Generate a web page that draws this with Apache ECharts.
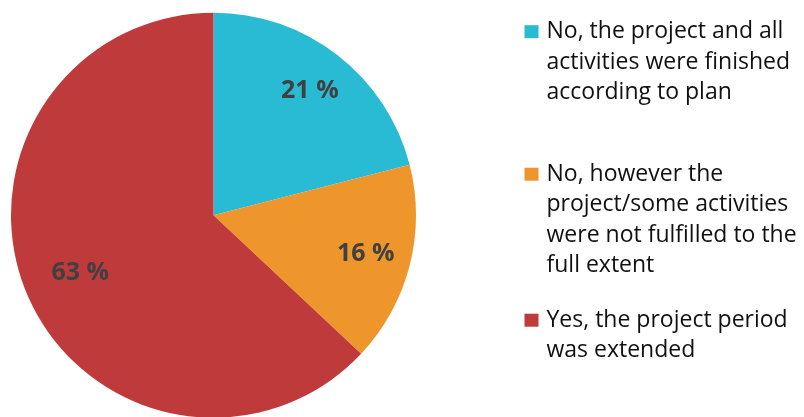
<!DOCTYPE html>
<html>
<head>
<meta charset="utf-8">
<script src="https://cdn.jsdelivr.net/npm/echarts@6/dist/echarts.min.js"></script>
<style>
html,body{margin:0;padding:0;background:#fff;}
#chart{width:804px;height:417px;}
</style>
</head>
<body>
<div id="chart"></div>
<script>
// ---- data ----
const categories = [
  'No, the project and all activities were finished according to plan',
  'No, however the project/some activities were not fulfilled to the full extent',
  'Yes, the project period was extended'
];
const legendLines = [
  ['No, the project and all', 'activities were finished', 'according to plan'],
  ['No, however the', 'project/some activities', 'were not fulfilled to the', 'full extent'],
  ['Yes, the project period', 'was extended']
];
const values = [21, 16, 63];

// ---- styling / layout ----
const colors = ['#29BBD3', '#EE962B', '#BF3A3A'];
const FONT = '"Open Sans", "Liberation Sans", sans-serif';
const LH = 30.4;
const legendTops = [16.5, 159, 305];
const CX = 213.5, CY = 215.2, R = 202.5;

const chart = echarts.init(document.getElementById('chart'), null, {renderer: 'canvas'});

const rich = {
  t: {fontFamily: FONT, fontSize: 23, color: '#111', lineHeight: LH},
  g: {width: 8, lineHeight: LH},
  ind: {width: 22, lineHeight: LH}
};
colors.forEach((c, i) => {
  rich['sq' + i] = {width: 14, height: 13, backgroundColor: c, lineHeight: LH};
});

const legends = legendLines.map((lines, i) => ({
  data: [categories[i]],
  orient: 'vertical',
  left: 519.5,
  top: legendTops[i],
  padding: 0,
  itemWidth: 0,
  itemHeight: 1,
  icon: 'none',
  selectedMode: false,
  formatter: function () {
    return lines.map((ln, k) => (k === 0 ? '{sq' + i + '|}{g|}' : '{ind|}') + '{t|' + ln + '}').join('\n');
  },
  textStyle: {fontFamily: FONT, fontSize: 23, color: '#111', lineHeight: LH, rich: rich}
}));

const baseData = categories.map((n, i) => ({name: n, value: values[i], itemStyle: {color: colors[i]}}));

const labelStyle = {
  position: 'inside',
  formatter: '{c} %',
  fontFamily: FONT,
  fontSize: 25,
  fontWeight: 'bold',
  color: '#404040'
};

function labelData(showIdx) {
  return categories.map((n, i) => ({
    name: n,
    value: values[i],
    itemStyle: {color: 'rgba(0,0,0,0)'},
    label: {show: showIdx.indexOf(i) >= 0}
  }));
}

chart.setOption({
  animation: false,
  legend: legends,
  series: [
    {
      type: 'pie',
      center: [CX, CY],
      radius: R,
      startAngle: 90,
      clockwise: true,
      silent: true,
      label: {show: false},
      labelLine: {show: false},
      itemStyle: {borderWidth: 0},
      emphasis: {disabled: true},
      data: baseData
    },
    {
      type: 'pie',
      center: [CX, CY],
      radius: [106, R],
      startAngle: 90,
      silent: true,
      label: labelStyle,
      labelLine: {show: false},
      emphasis: {disabled: true},
      data: labelData([0, 1])
    },
    {
      type: 'pie',
      center: [CX, CY],
      radius: [82, R],
      startAngle: 90,
      silent: true,
      label: labelStyle,
      labelLine: {show: false},
      emphasis: {disabled: true},
      data: labelData([2])
    }
  ]
});
</script>
</body>
</html>
